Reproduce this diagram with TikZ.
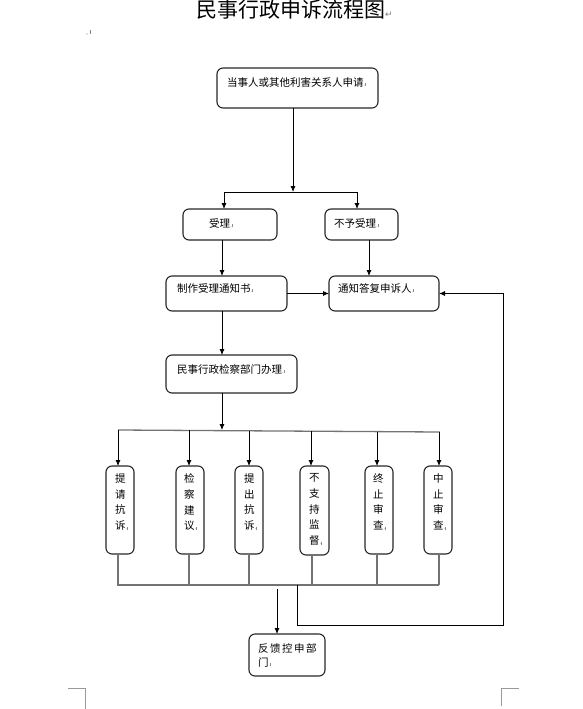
\documentclass[tikz,border=0pt]{standalone}
\usepackage{fontspec}
\setmainfont{Noto Sans CJK SC}
\newfontfamily\dejavu{DejaVu Sans}
\usetikzlibrary{arrows.meta}
\newcommand\pmk{\textcolor{black!45}{\fontsize{6}{6}\selectfont .\rule{0.4pt}{3pt}}}
\begin{document}
\begin{tikzpicture}[x=1pt,y=-1pt,
  box/.style={draw=black!85, line width=1.1pt, rounded corners=6pt, inner sep=0pt, outer sep=0pt},
  txt/.style={anchor=west, inner sep=0pt, font=\fontsize{10.5}{12}\selectfont},
  vtxt/.style={anchor=north west, inner sep=0pt, align=left, font=\fontsize{10.5}{15.7}\selectfont},
  con/.style={draw=black, line width=0.8pt},
  arr/.style={con, -{Latex[length=6pt,width=5pt]}},
  bar/.style={draw=black!55, line width=1.3pt},
  corner/.style={draw=black!40, line width=1pt}
]
\useasboundingbox (0,0) rectangle (582,709);

% title
\node[anchor=west, inner sep=0pt, font=\fontsize{21}{22}\selectfont] (title) at (196,10) {民事行政申诉流程图{\dejavu\fontsize{9}{9}\selectfont\textcolor{black!50}{↵}}};
\fill[black!50] (87,34) circle (0.6);
\draw[black!50, line width=0.6pt] (90,30) -- (90,34);

% boxes
\node[box, minimum width=161pt, minimum height=40pt] (apply) at (297.5,88) {};
\node[txt] (applyt) at (227,82) {当事人或其他利害关系人申请\pmk};

\node[box, minimum width=94pt, minimum height=31pt] (accept) at (230,224.5) {};
\node[txt] (acceptt) at (209,223) {受理\pmk};
\node[box, minimum width=73pt, minimum height=31pt] (reject) at (361.5,224.5) {};
\node[txt] (rejectt) at (334,223) {不予受理\pmk};

\node[box, minimum width=121pt, minimum height=35pt] (make) at (226.5,293.5) {};
\node[txt] (maket) at (177,288) {制作受理通知书\pmk};
\node[box, minimum width=110pt, minimum height=35pt] (notify) at (384,293.5) {};
\node[txt] (notifyt) at (338,288) {通知答复申诉人\pmk};

\node[box, minimum width=131pt, minimum height=38pt] (handle) at (231.5,374) {};
\node[txt] (handlet) at (177,369) {民事行政检察部门办理\pmk};

\node[box, minimum width=28pt, minimum height=88pt] (v1) at (120,510) {};
\node[vtxt] (v1t) at (115,473.5) {提\\请\\抗\\诉\pmk};
\node[box, minimum width=28pt, minimum height=88pt] (v2) at (190,510) {};
\node[vtxt] (v2t) at (184,473.5) {检\\察\\建\\议\pmk};
\node[box, minimum width=28pt, minimum height=88pt] (v3) at (249,510) {};
\node[vtxt] (v3t) at (244,473.5) {提\\出\\抗\\诉\pmk};
\node[box, minimum width=29pt, minimum height=89pt] (v4) at (314.5,510.5) {};
\node[vtxt] (v4t) at (309,473.5) {不\\支\\持\\监\\督\pmk};
\node[box, minimum width=28pt, minimum height=88pt] (v5) at (379,510) {};
\node[vtxt] (v5t) at (373,473.5) {终\\止\\审\\查\pmk};
\node[box, minimum width=28pt, minimum height=88pt] (v6) at (438,510) {};
\node[vtxt] (v6t) at (433,473.5) {中\\止\\审\\查\pmk};

\node[box, minimum width=76pt, minimum height=42pt] (feedback) at (287,655) {};
\node[vtxt, font=\fontsize{10.5}{14}\selectfont] (feedbackt) at (258,643) {反\hspace{1.5pt}馈\hspace{1.5pt}控\hspace{1.5pt}申\hspace{1.5pt}部\\门\pmk};

% connectors, top part
\coordinate (jm) at (293,192);
\coordinate (ja) at (224,192);
\coordinate (jb) at (357,192);
\draw[arr] (apply.south -| jm) -- (jm);
\draw[con] (ja) -- (jb);
\draw[arr] (ja) -- (ja |- accept.north);
\draw[arr] (jb) -- (jb |- reject.north);
\draw[arr] ([xshift=-8pt]accept.south) -- ([xshift=-8pt]accept.south |- make.north);
\draw[arr] ([xshift=7.5pt]reject.south) -- ([xshift=7.5pt]reject.south |- notify.north);
\draw[arr] (make.east) -- (notify.west);
\draw[arr] ([xshift=-4.5pt]make.south) -- ([xshift=-4.5pt]make.south |- handle.north);
\coordinate (hm) at (222,430);
\draw[arr] (handle.south -| hm) -- (hm);

% distribution bar
\coordinate (hl) at (118,430);
\coordinate (hr) at (440,432);
\draw[bar] (hl) -- (hr);
\coordinate (h1) at (118,430);
\coordinate (h2) at (189,430.4);
\coordinate (h3) at (249,430.8);
\coordinate (h4) at (311,431.2);
\coordinate (h5) at (377,431.6);
\coordinate (h6) at (439,432);
\draw[arr] (h1) -- (h1 |- v1.north);
\draw[arr] (h2) -- (h2 |- v2.north);
\draw[arr] (h3) -- (h3 |- v3.north);
\draw[arr] (h4) -- (h4 |- v4.north);
\draw[arr] (h5) -- (h5 |- v5.north);
\draw[arr] (h6) -- (h6 |- v6.north);

% collecting bar
\coordinate (bl) at (117,585);
\coordinate (br) at (439,585);
\draw[bar] (h1 |- v1.south) -- (h1 |- bl);
\draw[bar] (h2 |- v2.south) -- (h2 |- bl);
\draw[bar] (h3 |- v3.south) -- (h3 |- bl);
\draw[bar] (312,0 |- v4.south) -- (312,585);
\draw[bar] (h5 |- v5.south) -- (h5 |- bl);
\draw[bar] (h6 |- v6.south) -- (h6 |- bl);
\draw[bar] (bl) -- (br);

\coordinate (fb0) at (277,589);
\draw[arr] (fb0) -- (fb0 |- feedback.north);
\coordinate (r0) at (297,585);
\coordinate (r1) at (503,625);
\draw[arr] (r0) |- (r1) |- (notify.east);

% page corner marks
\draw[corner] (68,688) -- (85,688) -- (85,709);
\draw[corner] (519,688) -- (501,688) -- (501,706);
\end{tikzpicture}
\end{document}
